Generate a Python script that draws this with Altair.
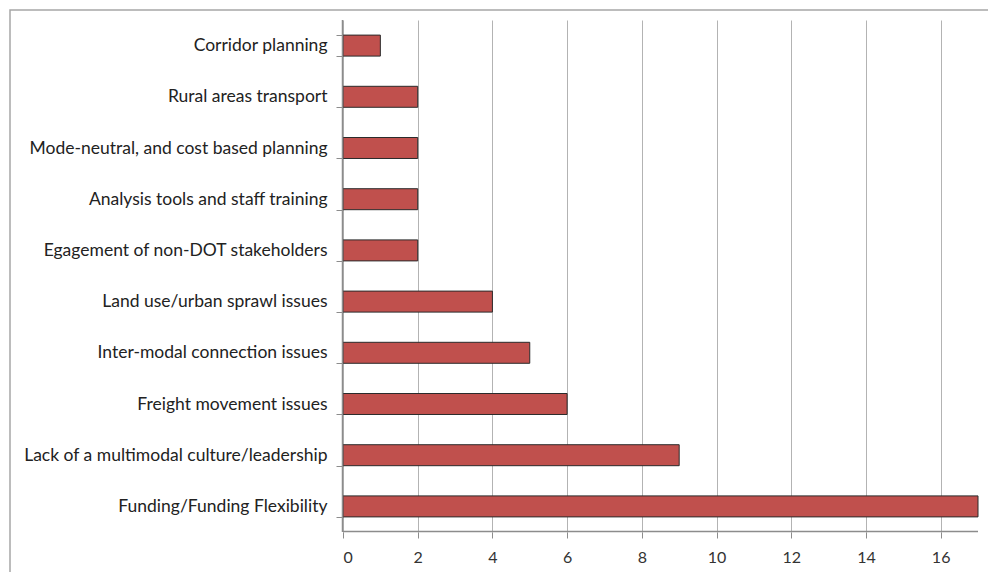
import altair as alt
import pandas as pd

categories = [
    "Corridor  planning",
    "Rural areas transport",
    "Mode-neutral, and cost based planning",
    "Analysis tools and staff training",
    "Egagement of non-DOT stakeholders",
    "Land use/urban sprawl issues",
    "Inter-modal connection issues",
    "Freight movement issues",
    "Lack of a multimodal culture/leadership",
    "Funding/Funding Flexibility",
]
values = [1, 2, 2, 2, 2, 4, 5, 6, 9, 17]
x_ticks = [0, 2, 4, 6, 8, 10, 12, 14, 16]
x_max = 17

df = pd.DataFrame({"cat": categories, "val": values})

FONT = "Lato"
GRID = "#b3b3b3"
AXIS = "#8c8c8c"

xscale = alt.Scale(domain=[0, x_max], nice=False, zero=True)

bars = alt.Chart(df).mark_bar(
    color="#C0504D", stroke="#2b2b2b", strokeWidth=1
).encode(
    x=alt.X(
        "val:Q",
        scale=xscale,
        axis=alt.Axis(
            values=x_ticks, title=None, grid=True, gridColor=GRID, gridWidth=1,
            domain=False, tickColor=AXIS,
            tickSize=6, labelPadding=11,
            labelFont=FONT, labelFontSize=16, labelColor="#333333",
        ),
    ),
    y=alt.Y(
        "cat:N",
        sort=categories,
        scale=alt.Scale(paddingInner=0.59, paddingOuter=0.295),
        axis=alt.Axis(
            title=None, tickBand="extent", domain=False, tickColor=AXIS,
            tickSize=7, labelPadding=9, labelFont=FONT, labelFontSize=17.5,
            labelColor="#222222", labelLimit=400,
        ),
    ),
)

base = alt.Chart(pd.DataFrame({"v": [0]}))

y_axis_line = base.mark_rule(color=AXIS, strokeWidth=1.5, xOffset=-0.5).encode(
    x=alt.datum(0, scale=xscale), y=alt.value(0), y2=alt.value("height")
)
x_axis_line = base.mark_rule(color=AXIS, strokeWidth=1.5, yOffset=-0.5).encode(
    x=alt.value(0), x2=alt.value("width"), y=alt.value("height")
)

frame = base.mark_rect(
    fill="transparent", stroke="#a6a6a6", strokeWidth=1.5
).encode(
    x=alt.value(-333), x2=alt.value(660), y=alt.value(-10), y2=alt.value(560)
)

chart = alt.layer(frame, bars, y_axis_line, x_axis_line).properties(
    width=635, height=512,
    padding={"left": 335, "top": 12, "right": 10, "bottom": 40},
    autosize=alt.AutoSizeParams(type="none"),
).configure_view(stroke=None)

chart.save("out.html", embed_options={"renderer": "svg", "actions": False})
